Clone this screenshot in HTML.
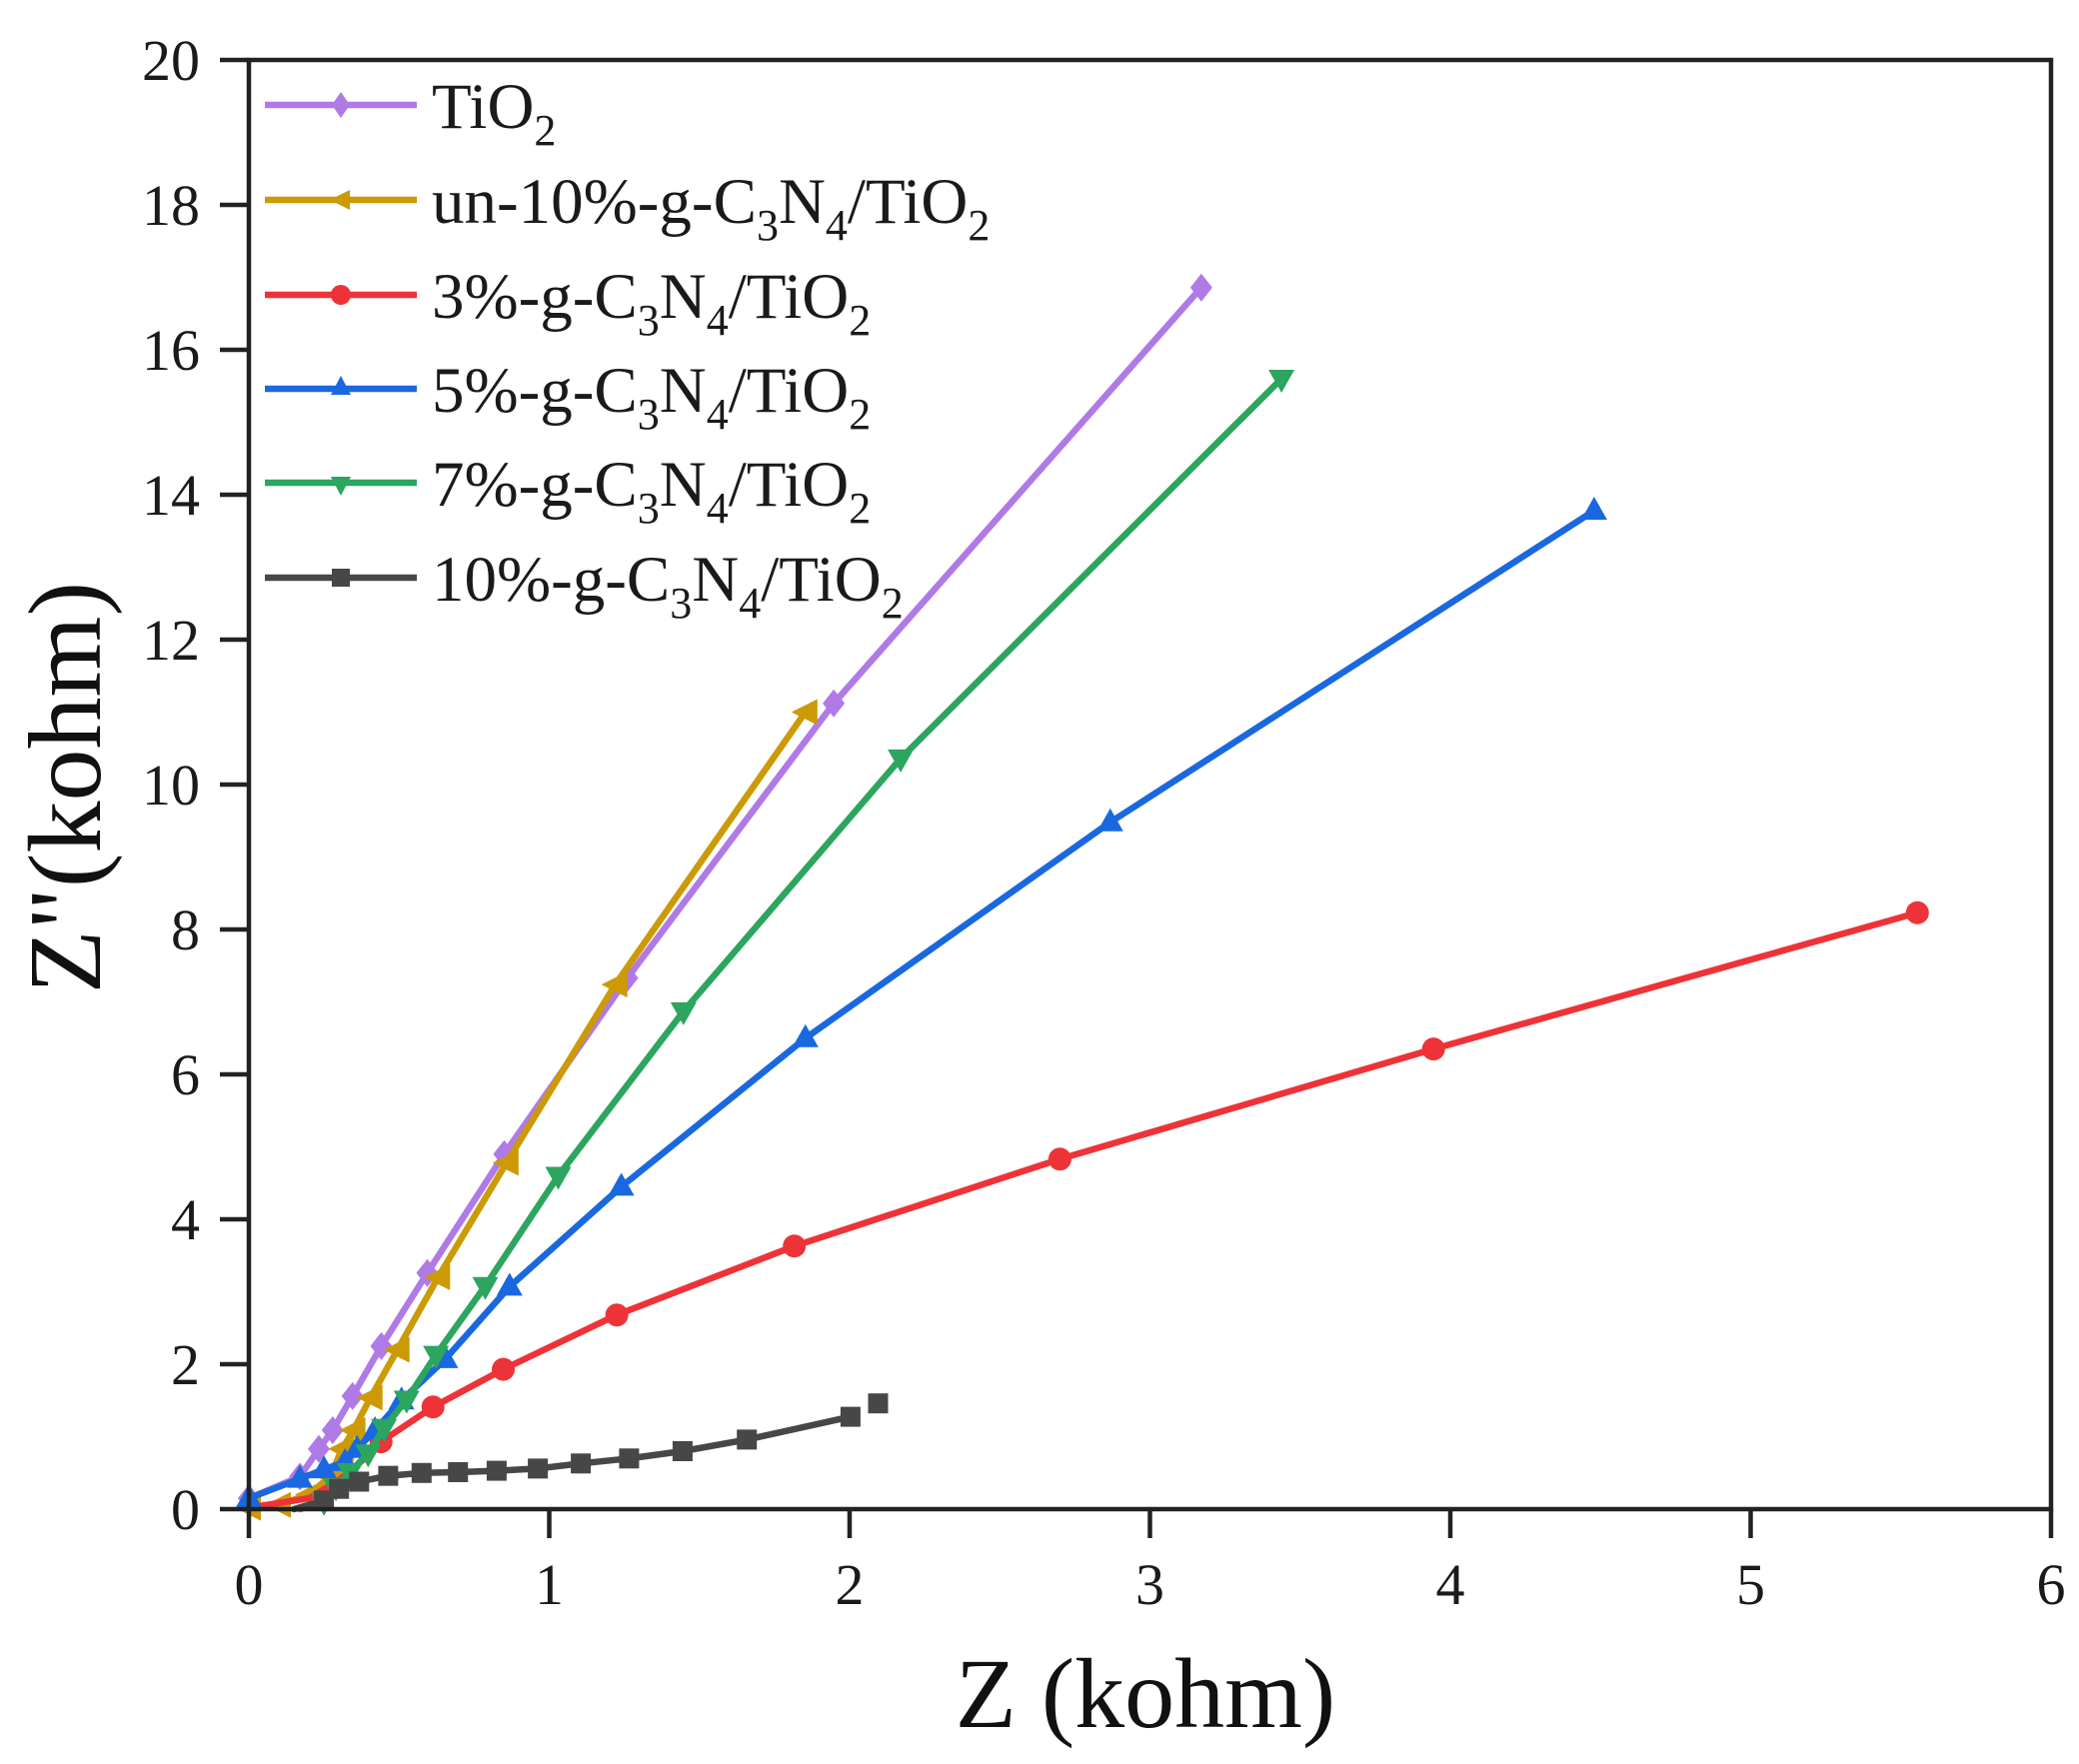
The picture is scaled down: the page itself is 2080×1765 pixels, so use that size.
<!DOCTYPE html>
<html><head><meta charset="utf-8"><style>
html,body{margin:0;padding:0;background:#fff;}
svg{display:block;font-family:"Liberation Serif","Times New Roman",serif;}
</style></head><body>
<svg width="2080" height="1765" viewBox="0 0 2080 1765" xmlns="http://www.w3.org/2000/svg">
<defs>
<marker id="mP" markerUnits="userSpaceOnUse" markerWidth="40" markerHeight="40" refX="20" refY="20" overflow="visible"><polygon points="20,6 31,20 20,34 9,20" fill="#b07ae6"/></marker>
<marker id="mO" markerUnits="userSpaceOnUse" markerWidth="40" markerHeight="40" refX="20" refY="20" overflow="visible"><polygon points="6,20 32,7 32,33" fill="#cc9a06"/></marker>
<marker id="mR" markerUnits="userSpaceOnUse" markerWidth="40" markerHeight="40" refX="20" refY="20" overflow="visible"><circle cx="20" cy="20" r="11.5" fill="#ee3338"/></marker>
<marker id="mB" markerUnits="userSpaceOnUse" markerWidth="40" markerHeight="40" refX="20" refY="20" overflow="visible"><polygon points="20,6 33,29 7,29" fill="#1a68e0"/></marker>
<marker id="mG" markerUnits="userSpaceOnUse" markerWidth="40" markerHeight="40" refX="20" refY="20" overflow="visible"><polygon points="20,34 33,11 7,11" fill="#2ca55e"/></marker>
<marker id="mK" markerUnits="userSpaceOnUse" markerWidth="40" markerHeight="40" refX="20" refY="20" overflow="visible"><rect x="10" y="10" width="20" height="20" fill="#474747"/></marker>
</defs>

<g fill="none" stroke-width="6.5" stroke-linejoin="round" stroke-linecap="round">
<polyline stroke="#b07ae6" marker-start="url(#mP)" marker-mid="url(#mP)" marker-end="url(#mP)" points="249,1499.1 300.1,1477.4 319,1449.8 332.8,1431 352.7,1396.9 381.5,1346.9 427.5,1273.7 504.4,1154.8 627.6,978.6 834.1,703.8 1201.9,287.7"/>
<polyline stroke="#cc9a06" marker-start="url(#mO)" marker-mid="url(#mO)" marker-end="url(#mO)" points="249,1508.6 279.1,1505.7 309.1,1495.5 330.1,1477.4 342.2,1449.8 353.6,1431 370.7,1398.4 397.7,1350.5 438.3,1278 506.8,1163.4 615.6,985.1 805.8,712.5"/>
<polyline stroke="#ee3338" points="249,1508.6 309.1,1499.1 339.2,1481 363.2,1460.7 381.2,1442.6"/>
<polyline stroke="#ee3338" marker-start="url(#mR)" marker-mid="url(#mR)" marker-end="url(#mR)" points="381.2,1442.6 433.2,1407.8 503.5,1370.1 617.1,1315.7 794.7,1246.8 1060.4,1159.8 1434.2,1049.6 1918.3,913.3"/>
<polyline stroke="#1a68e0" marker-start="url(#mB)" marker-mid="url(#mB)" marker-end="url(#mB)" points="249,1499.1 300.1,1479.6 324.1,1470.1 345.2,1462.9 357.2,1449.8 375.2,1431 401.7,1401.3 445.5,1359.9 509.8,1287.4 621.6,1187.4 805.8,1038.8 1110.8,822.7 1594.9,511"/>
<polyline stroke="#2ca55e" marker-mid="url(#mG)" marker-end="url(#mG)" points="300.1,1510 324.1,1502.8 336.1,1488.3 350,1473 368.3,1454.2 384.2,1428.8 406.8,1400.5 436.2,1355.6 485.5,1286.7 558.5,1176.5 683.8,1011.9 901.1,758.9 1282.1,379"/>
<polyline stroke="#474747" marker-mid="url(#mK)" marker-end="url(#mK)" points="294.1,1510 324.1,1501.3 339.2,1489.7 359.3,1482.5 388.4,1476.7 421.8,1473.8 458.2,1473 496.9,1471.6 538.1,1469.4 581.1,1464.3 629.4,1459.3 682.9,1452 747.2,1440.4 850.9,1417.6"/>
</g>
<rect x="868.5" y="1394.2" width="20" height="20" fill="#474747"/>

<!-- frame -->
<rect x="249" y="60" width="1803" height="1450" fill="none" stroke="#222" stroke-width="4.5"/>
<g stroke="#222" stroke-width="4.5">
<line x1="220" y1="1510" x2="249" y2="1510"/><line x1="220" y1="1365" x2="249" y2="1365"/>
<line x1="220" y1="1220" x2="249" y2="1220"/><line x1="220" y1="1075" x2="249" y2="1075"/>
<line x1="220" y1="930" x2="249" y2="930"/><line x1="220" y1="785" x2="249" y2="785"/>
<line x1="220" y1="640" x2="249" y2="640"/><line x1="220" y1="495" x2="249" y2="495"/>
<line x1="220" y1="350" x2="249" y2="350"/><line x1="220" y1="205" x2="249" y2="205"/>
<line x1="220" y1="60" x2="249" y2="60"/>
<line x1="249" y1="1510" x2="249" y2="1539"/><line x1="549.5" y1="1510" x2="549.5" y2="1539"/>
<line x1="850" y1="1510" x2="850" y2="1539"/><line x1="1150.5" y1="1510" x2="1150.5" y2="1539"/>
<line x1="1451" y1="1510" x2="1451" y2="1539"/><line x1="1751.5" y1="1510" x2="1751.5" y2="1539"/>
<line x1="2052" y1="1510" x2="2052" y2="1539"/>
</g>
<g font-size="58" fill="#1a1a1a" text-anchor="end">
<text x="200" y="1530">0</text><text x="200" y="1385">2</text><text x="200" y="1240">4</text>
<text x="200" y="1095">6</text><text x="200" y="950">8</text><text x="200" y="805">10</text>
<text x="200" y="660">12</text><text x="200" y="515">14</text><text x="200" y="370">16</text>
<text x="200" y="225">18</text><text x="200" y="80">20</text>
</g>
<g font-size="58" fill="#1a1a1a" text-anchor="middle">
<text x="249" y="1605">0</text><text x="549.5" y="1605">1</text><text x="850" y="1605">2</text>
<text x="1150.5" y="1605">3</text><text x="1451" y="1605">4</text><text x="1751.5" y="1605">5</text>
<text x="2052" y="1605">6</text>
</g>
<text x="1146" y="1728" font-size="100" fill="#111" text-anchor="middle">Z (kohm)</text>
<text transform="translate(100,788) rotate(-90)" font-size="104" fill="#111" text-anchor="middle">Z&quot;(kohm)</text>

<!-- legend -->
<g stroke-width="6.5">
<line x1="265" y1="105" x2="417" y2="105" stroke="#b07ae6"/>
<line x1="265" y1="200" x2="417" y2="200" stroke="#cc9a06"/>
<line x1="265" y1="295" x2="417" y2="295" stroke="#ee3338"/>
<line x1="265" y1="389" x2="417" y2="389" stroke="#1a68e0"/>
<line x1="265" y1="483" x2="417" y2="483" stroke="#2ca55e"/>
<line x1="265" y1="578" x2="417" y2="578" stroke="#474747"/>
</g>
<polygon points="341,92 350,105 341,118 332,105" fill="#b07ae6"/>
<polygon points="330,200 350,190 350,210" fill="#cc9a06"/>
<circle cx="341" cy="295" r="10" fill="#ee3338"/>
<polygon points="341,376 351,395 331,395" fill="#1a68e0"/>
<polygon points="341,496 351,477 331,477" fill="#2ca55e"/>
<rect x="332" y="569" width="18" height="18" fill="#474747"/>
<g font-size="65" fill="#1a1a1a">
<text x="432" y="128">TiO<tspan font-size="44" dy="17">2</tspan></text>
<text x="432" y="223">un-10%-g-C<tspan font-size="44" dy="17">3</tspan><tspan dy="-17">N</tspan><tspan font-size="44" dy="17">4</tspan><tspan dy="-17">/TiO</tspan><tspan font-size="44" dy="17">2</tspan></text>
<text x="432" y="318">3%-g-C<tspan font-size="44" dy="17">3</tspan><tspan dy="-17">N</tspan><tspan font-size="44" dy="17">4</tspan><tspan dy="-17">/TiO</tspan><tspan font-size="44" dy="17">2</tspan></text>
<text x="432" y="412">5%-g-C<tspan font-size="44" dy="17">3</tspan><tspan dy="-17">N</tspan><tspan font-size="44" dy="17">4</tspan><tspan dy="-17">/TiO</tspan><tspan font-size="44" dy="17">2</tspan></text>
<text x="432" y="506">7%-g-C<tspan font-size="44" dy="17">3</tspan><tspan dy="-17">N</tspan><tspan font-size="44" dy="17">4</tspan><tspan dy="-17">/TiO</tspan><tspan font-size="44" dy="17">2</tspan></text>
<text x="432" y="601">10%-g-C<tspan font-size="44" dy="17">3</tspan><tspan dy="-17">N</tspan><tspan font-size="44" dy="17">4</tspan><tspan dy="-17">/TiO</tspan><tspan font-size="44" dy="17">2</tspan></text>
</g>
</svg>
</body></html>
